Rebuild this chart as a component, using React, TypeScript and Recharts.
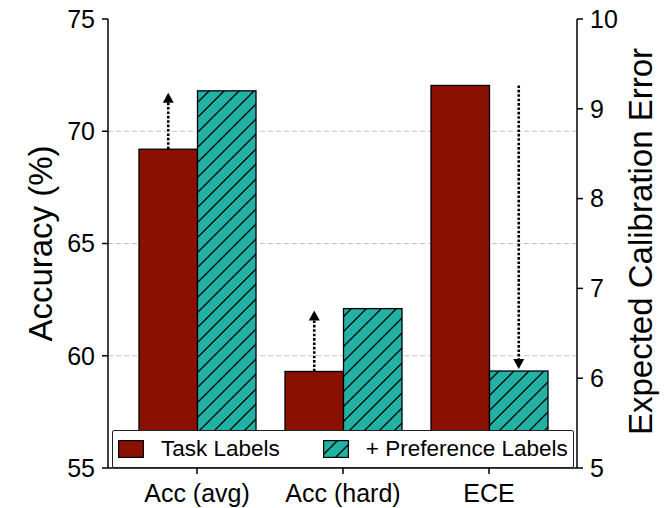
import { Bar, BarChart, CartesianGrid, Legend, XAxis, YAxis } from "recharts"

const categories = ["Acc (avg)", "Acc (hard)", "ECE"]
// per-category values; the ECE entry is read on the right axis
const taskLabels = [69.2, 59.3, 9.26]
const prefLabels = [71.8, 62.1, 6.08]
const isEce = [false, false, true]

const accTicks = [55, 60, 65, 70, 75]
const eceTicks = [5, 6, 7, 8, 9, 10]
const accGrid = [60, 65, 70]

const RED = "#8a1000"
const TEAL = "#22b1a5"
const FONT = "'Liberation Sans', Arial, sans-serif"

const data = categories.map((name, i) => ({
  name,
  taskAcc: isEce[i] ? null : taskLabels[i],
  prefAcc: isEce[i] ? null : prefLabels[i],
  taskEce: isEce[i] ? taskLabels[i] : null,
  prefEce: isEce[i] ? prefLabels[i] : null,
}))

// dotted arrow with a filled head; tip ends at `to`
const Arrow = ({ x, from, to }: { x: number; from: number; to: number }) => {
  const dir = to < from ? -1 : 1
  const head = 10
  const base = to - dir * head
  return (
    <g>
      <line
        x1={x}
        y1={from}
        x2={x}
        y2={base}
        stroke="#000"
        strokeWidth={2.6}
        strokeDasharray="2.6 1.8"
      />
      <polygon points={`${x},${to} ${x - 5.5},${base} ${x + 5.5},${base}`} fill="#000" />
    </g>
  )
}

const BarRect = ({ x, y, width, height, fill }: any) => (
  <rect x={x} y={y} width={width} height={height} fill={fill} stroke="#000" strokeWidth={1.3} />
)

// task bar on the accuracy axis, plus an arrow up to the preference value
const TaskAccShape = (props: any) => {
  const { x, y, width, height, payload } = props
  if (payload.taskAcc == null) return null
  const bottom = y + height
  const perUnit = height / (payload.taskAcc - accTicks[0])
  const target = bottom - (payload.prefAcc - accTicks[0]) * perUnit
  return (
    <g>
      <BarRect x={x} y={y} width={width} height={height} fill={RED} />
      <Arrow x={x + width / 2} from={y} to={target + 2} />
    </g>
  )
}

const PrefShape = (key: "prefAcc" | "prefEce") => (props: any) => {
  const { x, y, width, height, payload } = props
  if (payload[key] == null) return null
  return <BarRect x={x} y={y} width={width} height={height} fill="url(#hatch)" />
}

// preference bar on the ECE axis, arrow coming down from the task value
const PrefEceShape = (props: any) => {
  const { x, y, width, height, payload } = props
  if (payload.prefEce == null) return null
  const bottom = y + height
  const perUnit = height / (payload.prefEce - eceTicks[0])
  const start = bottom - (payload.taskEce - eceTicks[0]) * perUnit
  return (
    <g>
      <BarRect x={x} y={y} width={width} height={height} fill="url(#hatch)" />
      <Arrow x={x + width / 2} from={start} to={y - 2} />
    </g>
  )
}

const TaskEceShape = (props: any) => {
  const { x, y, width, height, payload } = props
  if (payload.taskEce == null) return null
  return <BarRect x={x} y={y} width={width} height={height} fill={RED} />
}

const LegendBox = () => (
  <div
    style={{
      boxSizing: "border-box",
      width: "100%",
      height: "100%",
      border: "1.5px solid #222",
      borderRadius: 2,
      background: "#fff",
      display: "flex",
      alignItems: "center",
      fontFamily: FONT,
      fontSize: 22.5,
      color: "#000",
      paddingLeft: 5,
    }}
  >
    <svg width={26} height={18} style={{ display: "block" }}>
      <rect x={0.6} y={0.6} width={24.8} height={16.8} fill={RED} stroke="#000" strokeWidth={1.2} />
    </svg>
    <span style={{ marginLeft: 17 }}>Task Labels</span>
    <svg width={26} height={18} style={{ display: "block", marginLeft: 43 }}>
      <rect x={0.6} y={0.6} width={24.8} height={16.8} fill="url(#hatch)" stroke="#000" strokeWidth={1.2} />
    </svg>
    <span style={{ marginLeft: 17 }}>+ Preference Labels</span>
  </div>
)

const tickStyle = { fontSize: 25, fill: "#000", fontFamily: FONT }
const axisLine = { stroke: "#000", strokeWidth: 1.5 }

export default function App() {
  return (
    <div style={{ position: "absolute", left: 0, top: 0 }}>
      <BarChart
        width={666}
        height={508}
        data={data}
        margin={{ top: 19, right: 9, bottom: 0, left: 48 }}
        barGap={0}
        barSize={58.5}
      >
        <defs>
          <pattern id="hatch" patternUnits="userSpaceOnUse" width={15} height={15}>
            <rect width={15} height={15} fill={TEAL} />
            <path
              d="M0,15 L15,0 M-3.75,3.75 L3.75,-3.75 M11.25,18.75 L18.75,11.25"
              stroke="#000"
              strokeWidth={1.3}
            />
          </pattern>
        </defs>
        <CartesianGrid
          xAxisId="a"
          yAxisId="left"
          vertical={false}
          horizontalValues={accGrid}
          stroke="#c4c4c4"
          strokeDasharray="5 3"
        />
        <XAxis
          xAxisId="a"
          dataKey="name"
          padding={{ left: 16, right: 15 }}
          height={40}
          tickSize={6}
          tickMargin={10}
          tick={tickStyle}
          axisLine={axisLine}
          tickLine={axisLine}
        />
        <XAxis xAxisId="b" dataKey="name" padding={{ left: 16, right: 15 }} hide />
        <YAxis
          yAxisId="left"
          domain={[55, 75]}
          ticks={accTicks}
          allowDataOverflow
          width={60}
          tickSize={6}
          tickMargin={7}
          tick={tickStyle}
          axisLine={axisLine}
          tickLine={axisLine}
          label={(p: any) => (
            <text
              x={p.viewBox.x + 4}
              y={p.viewBox.y + p.viewBox.height / 2}
              transform={`rotate(-90, ${p.viewBox.x + 4}, ${p.viewBox.y + p.viewBox.height / 2})`}
              textAnchor="middle"
              fontSize={33}
              fontFamily={FONT}
              fill="#000"
            >
              Accuracy (%)
            </text>
          )}
        />
        <YAxis
          yAxisId="right"
          orientation="right"
          domain={[5, 10]}
          ticks={eceTicks}
          allowDataOverflow
          width={80}
          tickSize={6}
          tickMargin={7}
          tick={tickStyle}
          axisLine={axisLine}
          tickLine={axisLine}
          label={(p: any) => (
            <text
              x={p.viewBox.x + 75}
              y={p.viewBox.y + p.viewBox.height / 2 - 2}
              transform={`rotate(-90, ${p.viewBox.x + 75}, ${p.viewBox.y + p.viewBox.height / 2 - 2})`}
              textAnchor="middle"
              fontSize={33}
              fontFamily={FONT}
              fill="#000"
            >
              Expected Calibration Error
            </text>
          )}
        />
        <Bar xAxisId="a" yAxisId="left" dataKey="taskAcc" name="Task Labels" fill={RED} shape={TaskAccShape} isAnimationActive={false} />
        <Bar xAxisId="a" yAxisId="left" dataKey="prefAcc" name="+ Preference Labels" fill={TEAL} shape={PrefShape("prefAcc")} isAnimationActive={false} />
        <Bar xAxisId="b" yAxisId="right" dataKey="taskEce" legendType="none" fill={RED} shape={TaskEceShape} isAnimationActive={false} />
        <Bar xAxisId="b" yAxisId="right" dataKey="prefEce" legendType="none" fill={TEAL} shape={PrefEceShape} isAnimationActive={false} />
        <Legend
          layout="horizontal"
          verticalAlign="middle"
          align="center"
          content={<LegendBox />}
          wrapperStyle={{ left: 112, top: 430, width: 462, height: 38 }}
        />
      </BarChart>
    </div>
  )
}
